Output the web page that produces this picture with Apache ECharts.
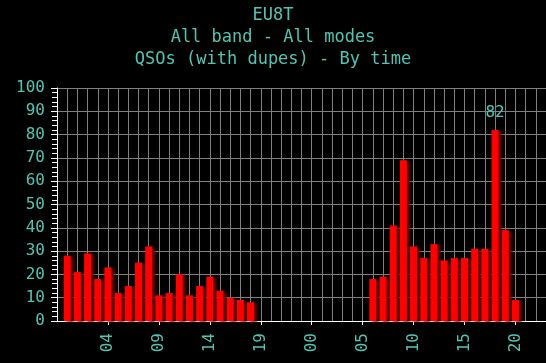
<!DOCTYPE html>
<html>
<head>
<meta charset="utf-8">
<script src="https://cdn.jsdelivr.net/npm/echarts@6/dist/echarts.min.js"></script>
<style>
html,body{margin:0;padding:0;background:#000;}
#c{width:546px;height:363px;}
</style>
</head>
<body>
<div id="c"></div>
<script>
// Hour categories: one leading empty slot (23), then two days 00..23
const categories = ['23',
 '00','01','02','03','04','05','06','07','08','09','10','11','12','13','14','15','16','17','18','19','20','21','22','23',
 '00','01','02','03','04','05','06','07','08','09','10','11','12','13','14','15','16','17','18','19','20','21','22','23'];
// QSO counts per hour (null = no QSOs)
const qsos = [null,
 28,21,29,18,23,12,15,25,32,11,12,20,11,15,19,13,10,9,8,null,null,null,null,null,
 null,null,null,null,null,null,18,19,41,69,32,27,33,26,27,27,31,31,82,39,9,null,null,null];
const yTicks = {min: 0, max: 100, step: 10};
const titleLines = ['EU8T', 'All band - All modes', 'QSOs (with dupes) - By time'];

const TXT = '#55c3b3';
const FONT = 'DejaVu Sans Mono';
const maxVal = Math.max(...qsos.filter(v => v != null));
const tickIdx = (i) => i > 0 && i % 5 === 0;

const chart = echarts.init(document.getElementById('c'), null, {renderer: 'canvas'});
chart.setOption({
  backgroundColor: '#000',
  animation: false,
  title: {
    text: titleLines.join('\n'),
    left: 'center',
    top: 0,
    textStyle: {color: TXT, fontFamily: FONT, fontSize: 17, fontWeight: 'normal', lineHeight: 22}
  },
  grid: {left: 57, right: -2, top: 88, bottom: 42, containLabel: false},
  xAxis: {
    type: 'category',
    data: categories,
    boundaryGap: false,
    axisLine: {lineStyle: {color: '#fff', width: 1}},
    axisTick: {show: true, interval: tickIdx, length: 4, lineStyle: {color: '#fff'}},
    axisLabel: {interval: tickIdx, rotate: 90, margin: 12, color: TXT, fontFamily: FONT, fontSize: 16},
    splitLine: {show: true, interval: 0, lineStyle: {color: '#808080', width: 1}}
  },
  yAxis: {
    type: 'value',
    min: yTicks.min, max: yTicks.max, interval: yTicks.step,
    axisLine: {show: true, lineStyle: {color: '#fff', width: 1}},
    axisTick: {show: true, length: 6, lineStyle: {color: '#fff'}},
    minorTick: {show: true, splitNumber: 5, length: 5, lineStyle: {color: '#fff'}},
    axisLabel: {margin: 12, color: TXT, fontFamily: FONT, fontSize: 16},
    splitLine: {show: true, lineStyle: {color: '#808080', width: 1}}
  },
  series: [{
    type: 'bar',
    data: qsos,
    barWidth: 7,
    itemStyle: {color: '#ff0000', shadowColor: 'rgba(110,0,0,1)', shadowOffsetX: 3, shadowOffsetY: 1, shadowBlur: 3},
    label: {
      show: true, position: 'top', distance: 9,
      color: TXT, fontFamily: FONT, fontSize: 16,
      formatter: (p) => p.value === maxVal ? String(p.value) : ''
    }
  }]
});
</script>
</body>
</html>
